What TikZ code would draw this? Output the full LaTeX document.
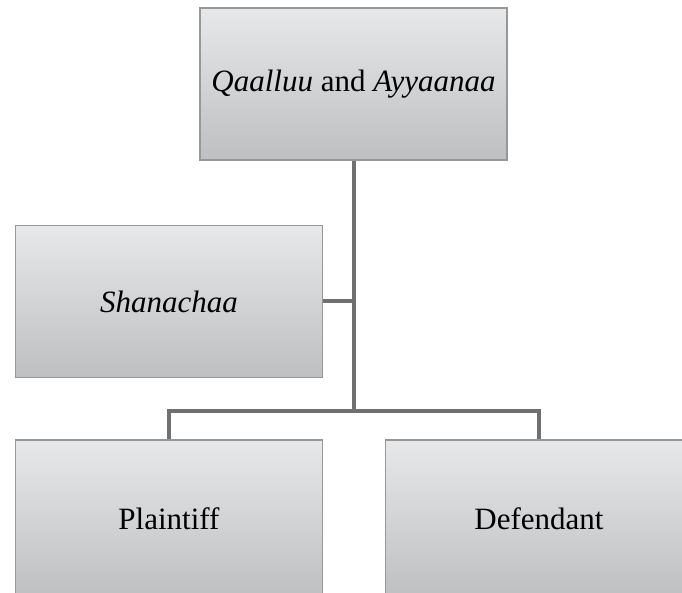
\documentclass[tikz,border=0pt]{standalone}
\usepackage{fontspec}
\setmainfont{Liberation Serif}
\usepackage{xcolor}
\usetikzlibrary{positioning, calc}

\definecolor{boxtop}{RGB}{231,232,234}
\definecolor{boxbottom}{RGB}{190,191,193}
\definecolor{boxedge}{RGB}{150,151,153}
\definecolor{linkgray}{RGB}{112,112,114}

\begin{document}
\begin{tikzpicture}[
    x=1pt, y=-1pt,
    rolebox/.style={rectangle, top color=boxtop, bottom color=boxbottom, draw=boxedge, line width=1.5pt, minimum width=307pt, minimum height=152pt, inner sep=0pt, align=center, font=\fontsize{31}{36}\selectfont},
    link/.style={line width=4pt, color=linkgray}
]
    \useasboundingbox (0,0) rectangle (682,593);
    \clip (0,0) rectangle (682,593);

    % Top: the institution
    \node (qaalluu) [rolebox] at (353.5,84) {\textit{Qaalluu} and \textit{Ayyaanaa}};

    % Middle: the mediator
    \node (shanachaa) [rolebox] at (169,301.5) {\textit{Shanachaa}};

    % Bottom: the two parties (cut off by the page edge)
    \node (plaintiff) [rolebox, minimum height=158pt] at (169,519) {Plaintiff};
    \node (defendant) [rolebox, minimum height=158pt] at (539,519) {Defendant};

    % Connecting lines
    \coordinate (bus) at (qaalluu.south |- 0,411);
    \draw [link] (qaalluu.south) -- (bus);
    \draw [link] (shanachaa.east) -- (shanachaa.east -| bus);
    \draw [link] (plaintiff.north) |- (bus) -| (defendant.north);

\end{tikzpicture}
\end{document}
